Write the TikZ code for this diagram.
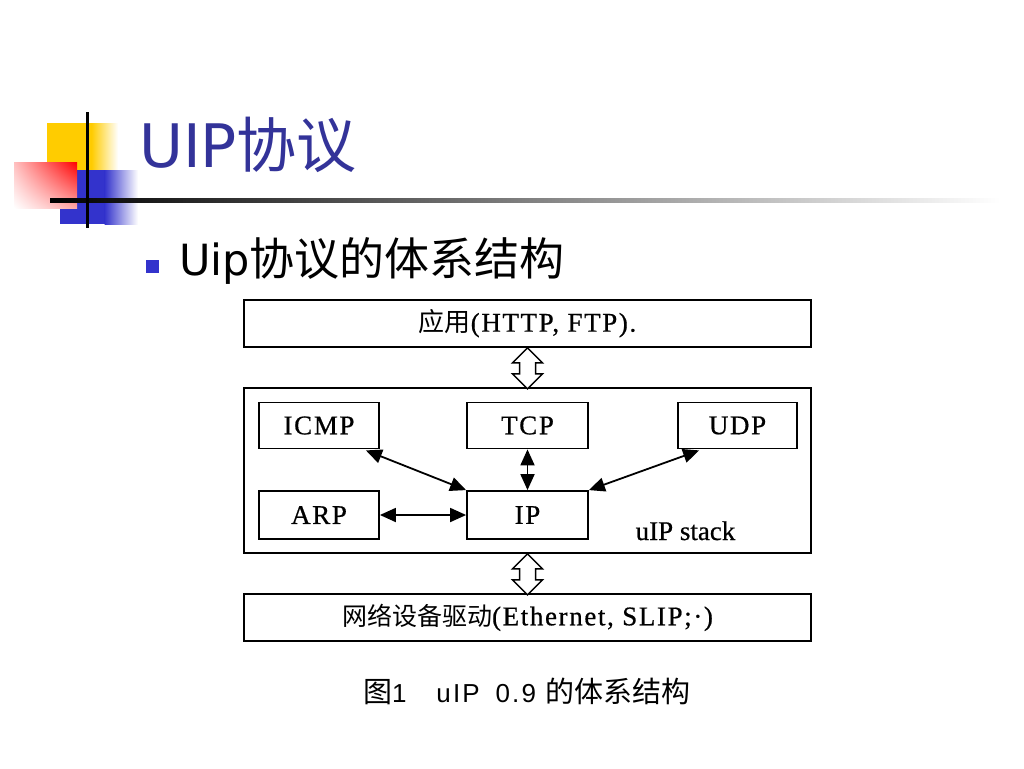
\documentclass[tikz,border=0pt]{standalone}
\usepackage{fontspec}
\setmainfont{Liberation Serif}
\newfontfamily\cjk{Noto Sans CJK SC}
\newfontfamily\titlefont{DejaVu Sans}
\newfontfamily\capfont{Liberation Sans}
\usetikzlibrary{arrows.meta,calc,shadings}
\definecolor{titleblue}{HTML}{333399}
\definecolor{bulletblue}{HTML}{3333CC}
\definecolor{logoyellow}{HTML}{FFCC00}
\definecolor{logoblue}{HTML}{3333CC}
\begin{document}
\begin{tikzpicture}[x=1pt,y=-1pt,
  box/.style={draw, line width=1.8pt, inner sep=0pt,
    font=\addfontfeature{LetterSpace=6,FakeBold=0.6}\fontsize{27}{29}\selectfont},
  conn/.style={line width=1.8pt,
    {Triangle[length=16pt,width=14pt]}-{Triangle[length=16pt,width=14pt]}},
  hollow/.style={draw, fill=white, line width=1.5pt, line join=miter}]
\useasboundingbox (0,0) rectangle (1024,768);
\fill[white] (0,0) rectangle (1024,768);
% logo
\fill[logoyellow] (47,123) rectangle (92,178);
\shade[left color=logoyellow, right color=white] (91.5,123) rectangle (118,178);
\fill[logoblue] (60,170) rectangle (105,224);
\shade[left color=logoblue, right color=white] (104.5,170) rectangle (138,224);
\shade[upper right=red, upper left=red!25, lower right=red!35, lower left=white] (14,162) rectangle (77,208);
\shade[left color=black, middle color=black!70, right color=white] (50,198) rectangle (1000,202.5);
\fill[black] (85.5,112) rectangle (89,228);
% title
\node[anchor=base west, inner sep=0pt, text=titleblue,
  font=\titlefont\fontsize{60}{62}\selectfont] (title) at (139,167) {UIP{\cjk 协议}};
% bullet
\node[fill=bulletblue, minimum size=13pt, inner sep=0pt] (bullet) at (152.5,266.5) {};
\node[anchor=base west, inner sep=0pt,
  font=\titlefont\fontsize{43}{45}\selectfont] (sub) at (179,275) {Uip{\cjk\fontsize{45}{47}\selectfont 协议的体系结构}};
% diagram boxes
\node[box, minimum width=567pt, minimum height=47pt] (app) at (527.5,323.5)
  {{\cjk\fontsize{26}{28}\selectfont 应用}(HTTP, FTP).};
\node[box, minimum width=567pt, minimum height=165pt] (stack) at (527.5,470.5) {};
\node[box, minimum width=567pt, minimum height=47pt] (drv) at (527.5,617.5)
  {{\cjk\fontsize{25}{27}\selectfont 网络设备驱动}(Ethernet, SLIP;·)};
\node[box, minimum width=120pt, minimum height=46pt] (icmp) at (319,425.5) {ICMP};
\node[box, minimum width=121pt, minimum height=46pt] (tcp) at (527.5,425.5) {TCP};
\node[box, minimum width=119pt, minimum height=46pt] (udp) at (737.5,425.5) {UDP};
\node[box, minimum width=120pt, minimum height=48pt] (arp) at (319,515) {ARP};
\node[box, minimum width=121pt, minimum height=48pt] (ip) at (527.5,515) {IP};
\node[anchor=base, inner sep=0pt, font=\addfontfeature{FakeBold=0.6}\fontsize{27}{29}\selectfont] (uipstack) at (685.5,540) {uIP stack};
% connectors
\draw[conn] ($(icmp.south east)+(-14,1)$) -- (ip.north west);
\draw[conn] ($(udp.south west)+(22,1)$) -- (ip.north east);
\draw[conn] (tcp.south) -- (ip.north);
\draw[conn] (arp.east) -- (ip.west);
% hollow double arrows
\draw[hollow] (app.south) -- ++(-15,15) -- ++(7,0) -- ++(0,11) -- ++(-7,0) -- ++(15,15)
  -- ++(15,-15) -- ++(-7,0) -- ++(0,-11) -- ++(7,0) -- cycle;
\draw[hollow] (stack.south) -- ++(-15,15) -- ++(7,0) -- ++(0,11) -- ++(-7,0) -- ++(15,15)
  -- ++(15,-15) -- ++(-7,0) -- ++(0,-11) -- ++(7,0) -- cycle;
% caption
\node[inner sep=0pt, font=\capfont\addfontfeature{LetterSpace=8}\fontsize{26}{28}\selectfont] (caption) at (527,691)
  {{\cjk\fontsize{29}{31}\selectfont 图}1\hspace{30pt}uIP\hspace{16pt}0.9\hspace{10pt}{\cjk\fontsize{29}{31}\selectfont 的体系结构}};
\end{tikzpicture}
\end{document}
